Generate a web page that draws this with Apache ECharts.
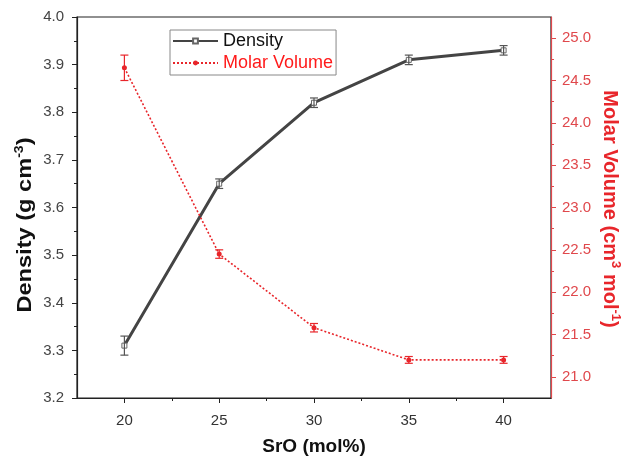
<!DOCTYPE html>
<html><head><meta charset="utf-8">
<script src="https://cdn.jsdelivr.net/npm/echarts@6/dist/echarts.min.js"></script>
<style>html,body{margin:0;padding:0;background:#fff}#c{width:625px;height:456px}</style>
</head><body><div id="c"></div>
<script>
const sro = [20, 25, 30, 35, 40];
const density = [3.31, 3.65, 3.82, 3.91, 3.93];
const densityErr = [0.02, 0.01, 0.01, 0.01, 0.01];
const molarVolume = [24.65, 22.45, 21.58, 21.20, 21.20];
const molarErr = [0.15, 0.05, 0.05, 0.04, 0.04];
const xTicks = [20, 25, 30, 35, 40];
const xMinor = [22.5, 27.5, 32.5, 37.5];
const mvTicks = [21, 21.5, 22, 22.5, 23, 23.5, 24, 24.5, 25];
const mvMinor = [21.25, 21.75, 22.25, 22.75, 23.25, 23.75, 24.25, 24.75];

const RED = '#e8262b';
const AXRED = '#e0484c';
const GRAY = '#444';

function errBars(color) {
  return function (params, api) {
    const x = api.value(0), y = api.value(1), e = api.value(2);
    const p1 = api.coord([x, y - e]);
    const p2 = api.coord([x, y + e]);
    const c = 4;
    const st = { stroke: color, lineWidth: 1.2 };
    return { type: 'group', children: [
      { type: 'line', shape: { x1: p1[0], y1: p1[1], x2: p2[0], y2: p2[1] }, style: st },
      { type: 'line', shape: { x1: p1[0] - c, y1: p1[1], x2: p1[0] + c, y2: p1[1] }, style: st },
      { type: 'line', shape: { x1: p2[0] - c, y1: p2[1], x2: p2[0] + c, y2: p2[1] }, style: st }
    ]};
  };
}

const chart = echarts.init(document.getElementById('c'));
const font = 'Liberation Sans, Arial, sans-serif';
chart.setOption({
  animation: false,
  textStyle: { fontFamily: font },
  grid: { left: 77, right: 74, top: 17, bottom: 58, show: true, borderColor: '#222', borderWidth: 1.2, backgroundColor: 'transparent' },
  legend: {
    orient: 'vertical', left: 170, top: 30, padding: [2, 3, 3, 2], itemGap: 4,
    itemWidth: 45, itemHeight: 6,
    borderColor: '#888', borderWidth: 1,
    textStyle: { fontSize: 18, fontFamily: font },
    data: [
      { name: 'Density', textStyle: { color: '#111' } },
      { name: 'Molar Volume', textStyle: { color: '#ff1a1a' } }
    ]
  },
  xAxis: [
    { type: 'value', min: 17.5, max: 42.5, position: 'bottom',
      axisLine: { lineStyle: { color: '#222', width: 1.2 } },
      axisTick: { customValues: xTicks, length: 5, lineStyle: { color: '#222' } },
      axisLabel: { customValues: xTicks, fontSize: 15, color: '#333', margin: 15 },
      splitLine: { show: false } },
    { type: 'value', min: 17.5, max: 42.5, position: 'bottom', offset: 0,
      axisLine: { show: false },
      axisTick: { customValues: xMinor, length: 3, lineStyle: { color: '#222' } },
      axisLabel: { show: false }, splitLine: { show: false } }
  ],
  yAxis: [
    { type: 'value', min: 3.2, max: 4.0, interval: 0.1, position: 'left',
      axisLine: { show: true, lineStyle: { color: '#222', width: 1.2 } },
      axisTick: { show: true, length: 5, lineStyle: { color: '#222' } },
      minorTick: { show: true, splitNumber: 2, length: 3, lineStyle: { color: '#222' } },
      axisLabel: { fontSize: 15, color: '#444', margin: 13, formatter: v => v.toFixed(1) },
      splitLine: { show: false } },
    { type: 'value', min: 20.75, max: 25.25, position: 'right', offset: 0,
      axisLine: { show: true, lineStyle: { color: AXRED, width: 1.2 } },
      axisTick: { show: true, customValues: mvTicks, length: 5, lineStyle: { color: AXRED } },
      axisLabel: { customValues: mvTicks, fontSize: 15, color: AXRED, margin: 11, formatter: v => v.toFixed(1) },
      splitLine: { show: false } },
    { type: 'value', min: 20.75, max: 25.25, position: 'right', offset: 0,
      axisLine: { show: false },
      axisTick: { show: true, customValues: mvMinor, length: 3, lineStyle: { color: AXRED } },
      axisLabel: { show: false }, splitLine: { show: false } }
  ],
  graphic: [
    { type: 'text', x: 25, y: 225, rotation: Math.PI / 2, scaleX: 1.18,
      style: { text: '{a|Density (g cm}{s|-3}{a|)}', align: 'center', verticalAlign: 'middle',
        rich: { a: { fontSize: 20, fontWeight: 'bold', fill: '#111', fontFamily: font },
                s: { fontSize: 12, fontWeight: 'bold', fill: '#111', fontFamily: font, padding: [0, 0, 11, 0] } } } },
    { type: 'text', x: 610, y: 209, rotation: -Math.PI / 2,
      style: { text: '{a|Molar Volume (cm}{s|3}{a| mol}{s|-1}{a|)}', align: 'center', verticalAlign: 'middle',
        rich: { a: { fontSize: 20, fontWeight: 'bold', fill: RED, fontFamily: font },
                s: { fontSize: 13, fontWeight: 'bold', fill: RED, fontFamily: font, padding: [0, 0, 11, 0] } } } },
    { type: 'text', x: 314, y: 447,
      style: { text: 'SrO (mol%)', align: 'center', verticalAlign: 'middle', fontSize: 19, fontWeight: 'bold', fill: '#111', fontFamily: font } }
  ],
  series: [
    { name: 'Density', type: 'line', xAxisIndex: 0, yAxisIndex: 0,
      data: sro.map((x, i) => [x, density[i]]),
      lineStyle: { color: GRAY, width: 3 }, itemStyle: { color: '#fff', borderColor: '#666', borderWidth: 1 },
      symbol: 'rect', symbolSize: 5, z: 3 },
    { name: 'Molar Volume', type: 'line', xAxisIndex: 0, yAxisIndex: 1,
      data: sro.map((x, i) => [x, molarVolume[i]]),
      lineStyle: { color: RED, width: 1.6, type: [2, 2] }, itemStyle: { color: RED },
      symbol: 'circle', symbolSize: 5, z: 3 },
    { name: 'DensityErr', type: 'custom', xAxisIndex: 0, yAxisIndex: 0,
      data: sro.map((x, i) => [x, density[i], densityErr[i]]),
      renderItem: errBars('#555'), z: 4 },
    { name: 'MolarErr', type: 'custom', xAxisIndex: 0, yAxisIndex: 1,
      data: sro.map((x, i) => [x, molarVolume[i], molarErr[i]]),
      renderItem: errBars(RED), z: 4 }
  ]
});
</script></body></html>
